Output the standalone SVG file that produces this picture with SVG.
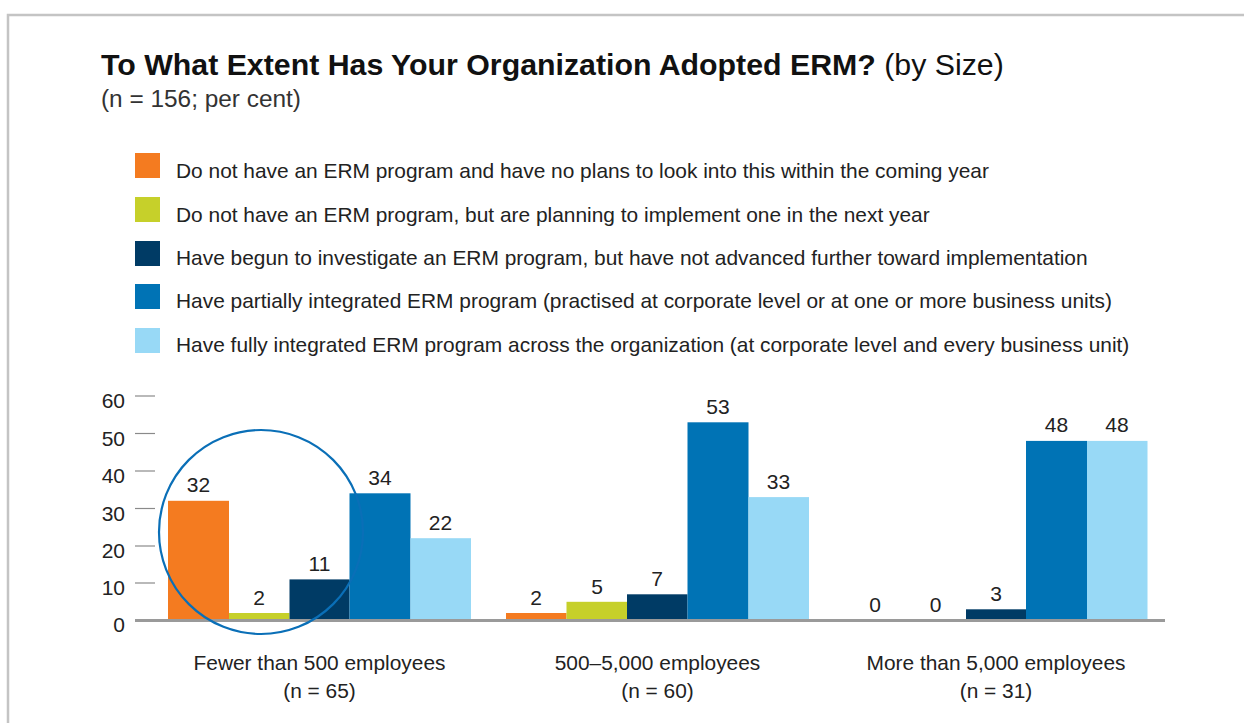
<svg xmlns="http://www.w3.org/2000/svg" width="1244" height="723" viewBox="0 0 1244 723">
<style>
text{font-family:"Liberation Sans",Arial,Helvetica,sans-serif;fill:#222;}
.t{font-size:30.3px;font-weight:bold;fill:#111;}
.tr{font-weight:normal;}
.sub{font-size:24.4px;fill:#333;}
.leg{font-size:20.9px;}
.ax{font-size:21px;text-anchor:end;}
.val{font-size:21px;text-anchor:middle;}
.cat{font-size:20.9px;text-anchor:middle;}
.tick{stroke:#8a8a8a;stroke-width:1.2;}
.c1{fill:#F47B20;}
.c2{fill:#C6D02A;}
.c3{fill:#003B65;}
.c4{fill:#0073B5;}
.c5{fill:#98D9F6;}
</style>
<rect width="1244" height="723" fill="#fff"/>
<g id="frame">
<path d="M8 723 V15 H1244" fill="none" stroke="#c4c4c4" stroke-width="2.5"/>
</g>
<g id="title">
<text class="t" x="101" y="74.5">To What Extent Has Your Organization Adopted ERM?<tspan class="tr"> (by Size)</tspan></text>
<text class="sub" x="101" y="107">(n = 156; per cent)</text>
</g>
<g id="legend">
<rect class="c1" x="135" y="153" width="25" height="25"/>
<text class="leg" x="176" y="178">Do not have an ERM program and have no plans to look into this within the coming year</text>
<rect class="c2" x="135" y="197" width="25" height="25"/>
<text class="leg" x="176" y="222">Do not have an ERM program, but are planning to implement one in the next year</text>
<rect class="c3" x="135" y="241" width="25" height="25"/>
<text class="leg" x="176" y="265">Have begun to investigate an ERM program, but have not advanced further toward implementation</text>
<rect class="c4" x="135" y="284" width="25" height="25"/>
<text class="leg" x="176" y="308">Have partially integrated ERM program (practised at corporate level or at one or more business units)</text>
<rect class="c5" x="135" y="328" width="25" height="25"/>
<text class="leg" x="176" y="352">Have fully integrated ERM program across the organization (at corporate level and every business unit)</text>
</g>
<g id="yaxis">
<line class="tick" x1="135" y1="396" x2="155" y2="396"/>
<line class="tick" x1="135" y1="433.5" x2="155" y2="433.5"/>
<line class="tick" x1="135" y1="471" x2="155" y2="471"/>
<line class="tick" x1="135" y1="508.5" x2="155" y2="508.5"/>
<line class="tick" x1="135" y1="546" x2="155" y2="546"/>
<line class="tick" x1="135" y1="583" x2="155" y2="583"/>
<text class="ax" x="125" y="408">60</text>
<text class="ax" x="125" y="445.5">50</text>
<text class="ax" x="125" y="483">40</text>
<text class="ax" x="125" y="520.5">30</text>
<text class="ax" x="125" y="558">20</text>
<text class="ax" x="125" y="595">10</text>
<text class="ax" x="125" y="632">0</text>
</g>
<g id="group1">
<rect class="c1" x="168" y="500.8" width="61" height="119.7"/>
<rect class="c2" x="229" y="613" width="60.5" height="7.5"/>
<rect class="c3" x="289.5" y="579.4" width="60" height="41.1"/>
<rect class="c4" x="349.5" y="493.3" width="61" height="127.2"/>
<rect class="c5" x="410.5" y="538.2" width="60.5" height="82.3"/>
<text class="val" x="198.5" y="492">32</text>
<text class="val" x="259" y="605">2</text>
<text class="val" x="319.5" y="571">11</text>
<text class="val" x="380" y="485">34</text>
<text class="val" x="440.5" y="530">22</text>
<text class="cat" x="319.5" y="670">Fewer than 500 employees</text>
<text class="cat" x="319.5" y="698">(n = 65)</text>
</g>
<g id="group2">
<rect class="c1" x="506" y="613" width="60.5" height="7.5"/>
<rect class="c2" x="566.5" y="601.8" width="60.5" height="18.7"/>
<rect class="c3" x="627" y="594.3" width="60.5" height="26.2"/>
<rect class="c4" x="687.5" y="422.3" width="61" height="198.2"/>
<rect class="c5" x="748.5" y="497.1" width="60.5" height="123.4"/>
<text class="val" x="536" y="605">2</text>
<text class="val" x="597" y="594">5</text>
<text class="val" x="657" y="586">7</text>
<text class="val" x="718" y="414">53</text>
<text class="val" x="778.5" y="489">33</text>
<text class="cat" x="657.5" y="670">500–5,000 employees</text>
<text class="cat" x="657.5" y="698">(n = 60)</text>
</g>
<g id="group3">
<rect class="c3" x="966" y="609.3" width="60" height="11.2"/>
<rect class="c4" x="1026" y="440.9" width="61" height="179.6"/>
<rect class="c5" x="1087" y="440.9" width="60.5" height="179.6"/>
<text class="val" x="875" y="612">0</text>
<text class="val" x="935.5" y="612">0</text>
<text class="val" x="996" y="601">3</text>
<text class="val" x="1056.5" y="432">48</text>
<text class="val" x="1117" y="432">48</text>
<text class="cat" x="996" y="670">More than 5,000 employees</text>
<text class="cat" x="996" y="698">(n = 31)</text>
</g>
<g id="connectors">
<line x1="135" y1="620.5" x2="1165" y2="620.5" stroke="#9a9a9a" stroke-width="3"/>
</g>
<g id="highlight">
<circle cx="261" cy="532" r="102" fill="none" stroke="#0A6FB7" stroke-width="2.2"/>
</g>
</svg>
